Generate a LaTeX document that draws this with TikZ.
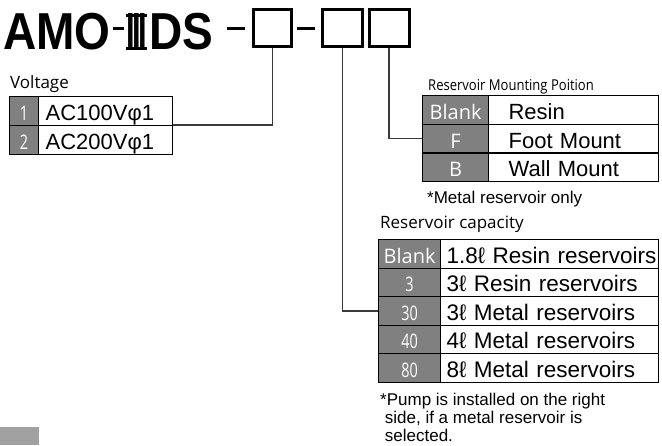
\documentclass[tikz,border=0pt]{standalone}
\usepackage{fontspec}
\setmainfont{Liberation Sans}
\newfontfamily\opfont{Open Sans}
\usepackage{graphicx}
\usetikzlibrary{calc}

\definecolor{keygray}{HTML}{808080}
\definecolor{wiregray}{HTML}{3A3A3A}
\newcommand{\dg}[1]{\scalebox{0.72}[1]{#1}}

\begin{document}
\begin{tikzpicture}[x=1pt,y=-1pt,
  keycell/.style={draw,fill=keygray,text=white,line width=1.2pt,inner sep=0pt,
    anchor=north west,font=\opfont\fontsize{20}{20}\selectfont,
    text height=19pt,text depth=0pt},
  desccell/.style={draw,line width=1.2pt,inner ysep=0pt,anchor=north west,
    align=left,font=\fontsize{22}{22}\selectfont,text height=19pt,text depth=0pt},
  codebox/.style={draw,line width=3pt,minimum width=38pt,minimum height=37pt,inner sep=0pt},
  wire/.style={wiregray,line width=1.3pt},
  caption/.style={anchor=base west,inner sep=0pt,font=\opfont\fontsize{17}{17}\selectfont},
  note/.style={anchor=base west,inner sep=0pt,font=\fontsize{17}{17}\selectfont}]
  \useasboundingbox (0,0) rectangle (662,445);

  % model code
  \node[anchor=base west,inner sep=0pt,font=\bfseries\fontsize{52}{52}\selectfont] (amo) at (3,49.5) {\scalebox{0.885}[1]{AMO}};
  \node[anchor=base west,inner sep=0pt,font=\bfseries\fontsize{52}{52}\selectfont] (three) at (126,49.5) {\resizebox{21pt}{36pt}{I\kern-4pt I\kern-4pt I}};
  \draw[line width=3pt] (126,15) -- (147,15) (126,48) -- (147,48);
  \node[anchor=base west,inner sep=0pt,font=\bfseries\fontsize{52}{52}\selectfont] (ds) at (149,49.5) {\scalebox{0.885}[1]{DS}};
  \draw[line width=2.3pt] (113,28.5) -- (123.5,28.5);
  \draw[line width=2.5pt] (227,28.5) -- (245,28.5);
  \draw[line width=2.5pt] (297,28.5) -- (315,28.5);
  \node[codebox] (box1) at (272.5,27.5) {};
  \node[codebox,minimum width=40pt] (box2) at (342.5,27.5) {};
  \node[codebox,minimum width=40pt] (box3) at (389,27.5) {};

  % voltage
  \node[caption] (volt) at (10,88.5) {Voltage};
  \node[keycell,minimum width=29pt,minimum height=29pt] (v1k) at (9,96) {\dg{1}};
  \node[desccell,text width=120pt,inner xsep=7pt,minimum height=29pt] (v1d) at (38,96) {AC100Vφ1};
  \node[keycell,minimum width=29pt,minimum height=29pt] (v2k) at (9,125) {\dg{2}};
  \node[desccell,text width=120pt,inner xsep=7pt,minimum height=29pt] (v2d) at (38,125) {AC200Vφ1};

  % mounting position
  \node[anchor=base west,inner sep=0pt,font=\opfont\fontsize{15}{15}\selectfont] (mount) at (428,90) {\scalebox{0.87}[1]{Reservoir Mounting Poition}};
  \foreach \n/\k/\t [count=\i from 0] in {Blank/Blank/Resin,F/F/Foot Mount,B/B/Wall Mount}{
    \node[keycell,minimum width=66pt,minimum height=28.7pt] (m\n k) at (422,95+28.7*\i) {\k};
    \node[desccell,text width=130pt,inner xsep=20pt,minimum height=28.7pt] (m\n d) at (488,95+28.7*\i) {\t};
  }
  \node[note] (mnote) at (427,203) {*Metal reservoir only};

  % reservoir capacity
  \node[caption] (cap) at (380,228) {Reservoir capacity};
  \foreach \n/\k/\t [count=\i from 0] in {Blank/Blank/1.8ℓ Resin reservoirs,3/\dg{3}/3ℓ Resin reservoirs,30/\dg{30}/3ℓ Metal reservoirs,40/\dg{40}/4ℓ Metal reservoirs,80/\dg{80}/8ℓ Metal reservoirs}{
    \node[keycell,minimum width=62pt,minimum height=28.5pt] (c\n k) at (378,239+28.5*\i) {\k};
    \node[desccell,text width=206pt,inner xsep=6pt,minimum height=28.5pt,font=\fontsize{22.5}{22.5}\selectfont] (c\n d) at (440,239+28.5*\i) {\mbox{\t}};
  }
  \node[note] (cnote1) at (380,405) {*Pump is installed on the right};
  \node[note] (cnote2) at (384.7,423.3) {side, if a metal reservoir is};
  \node[note] (cnote3) at (384.7,441.7) {selected.};

  % connectors
  \draw[wire] (box1.south) |- (v2d.north east);
  \draw[wire] (box2.south) |- (c30k.west);
  \draw[wire] (box3.south) |- (mFk.west);

  % corner mark
  \fill[black!37] (0,427) rectangle (39,445);
\end{tikzpicture}
\end{document}
